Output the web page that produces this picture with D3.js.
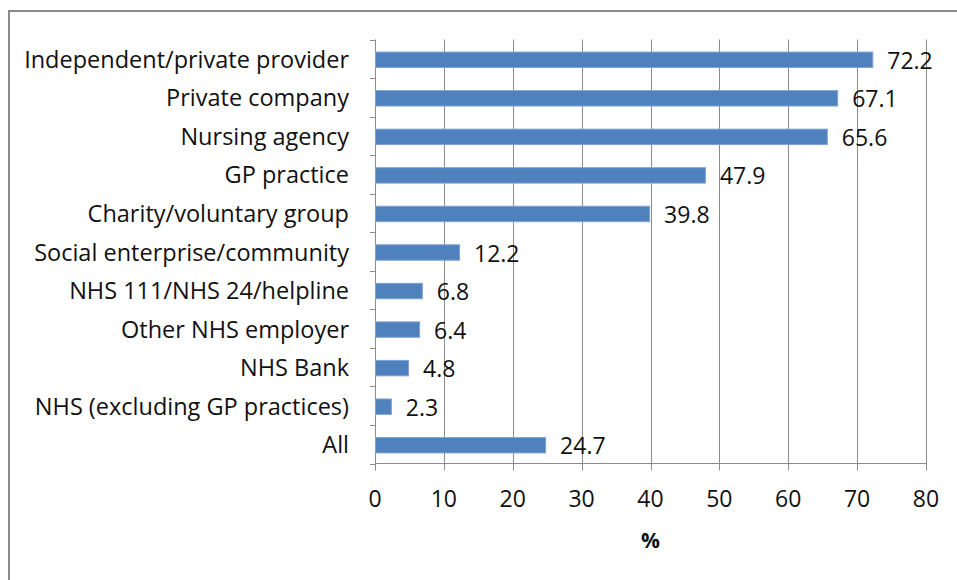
<!DOCTYPE html>
<html lang="en">
  <head>
    <meta charset="utf-8">
    <title>bars</title>
    <script src="https://cdn.jsdelivr.net/npm/d3@7"></script>
    <style type="text/css">
      body { margin: 0; background: #fff; }
      text { font-family: "Open Sans", "Liberation Sans", sans-serif; fill: #111; }
    </style>
  </head>
  <body>
    <svg width="957" height="580"></svg>
    <script type="text/javascript">
      var categories = ["Independent/private provider", "Private company", "Nursing agency",
        "GP practice", "Charity/voluntary group", "Social enterprise/community",
        "NHS 111/NHS 24/helpline", "Other NHS employer", "NHS Bank",
        "NHS (excluding GP practices)", "All"];
      var values = [72.2, 67.1, 65.6, 47.9, 39.8, 12.2, 6.8, 6.4, 4.8, 2.3, 24.7];
      var xTicks = [0, 10, 20, 30, 40, 50, 60, 70, 80];
      var xTitle = "%";

      var svg = d3.select("svg"),
          width = +svg.attr("width"),
          height = +svg.attr("height");

      // outer frame of the chart area (runs off the bottom/right)
      svg.append("rect")
        .attr("x", 9).attr("y", 11)
        .attr("width", 960).attr("height", 600)
        .attr("fill", "none")
        .attr("stroke", "#8a8a8a")
        .attr("stroke-width", 2);

      var plotTop = 39.5, plotBottom = 463.5;
      var x = d3.scaleLinear().domain([0, 80]).range([375, 926]);
      var y = d3.scaleBand().domain(categories).range([plotTop, plotBottom]).paddingInner(0.6).paddingOuter(0.3);
      var step = y.step();

      // vertical gridlines
      svg.append("g")
        .selectAll("line")
        .data(xTicks.slice(1))
        .enter().append("line")
          .attr("x1", function(d) { return Math.round(x(d)) + 0.5; })
          .attr("x2", function(d) { return Math.round(x(d)) + 0.5; })
          .attr("y1", plotTop)
          .attr("y2", plotBottom + 7)
          .attr("stroke", "#8c8c8c");

      // x axis line, y axis line
      svg.append("line")
        .attr("x1", 375.5).attr("x2", Math.round(x(80)) + 0.5)
        .attr("y1", plotBottom).attr("y2", plotBottom)
        .attr("stroke", "#8c8c8c");
      svg.append("line")
        .attr("x1", 375.5).attr("x2", 375.5)
        .attr("y1", plotTop).attr("y2", plotBottom + 7)
        .attr("stroke", "#8c8c8c");

      // category ticks on the y axis
      svg.append("g")
        .selectAll("line")
        .data(d3.range(categories.length + 1))
        .enter().append("line")
          .attr("x1", 370).attr("x2", 375.5)
          .attr("y1", function(i) { return Math.round(plotTop + i * step) + 0.5; })
          .attr("y2", function(i) { return Math.round(plotTop + i * step) + 0.5; })
          .attr("stroke", "#8c8c8c");

      // x tick labels
      svg.append("g")
        .selectAll("text")
        .data(xTicks)
        .enter().append("text")
          .attr("x", function(d) { return x(d); })
          .attr("y", 507)
          .attr("text-anchor", "middle")
          .style("font-size", "23px")
          .text(function(d) { return d; });

      svg.append("text")
        .attr("x", (x(0) + x(80)) / 2)
        .attr("y", 548)
        .attr("text-anchor", "middle")
        .style("font-size", "21px")
        .style("font-weight", "bold")
        .text(xTitle);

      // bars
      svg.append("g")
        .selectAll("rect")
        .data(values)
        .enter().append("rect")
          .attr("x", x(0) + 0.5)
          .attr("y", function(d, i) { return y(categories[i]) + 1; })
          .attr("width", function(d) { return x(d) - x(0); })
          .attr("height", y.bandwidth())
          .attr("fill", "#4f81bd")
          .attr("stroke", "#7ea3d3")
          .attr("stroke-width", 1);

      // value labels
      svg.append("g")
        .selectAll("text")
        .data(values)
        .enter().append("text")
          .attr("x", function(d) { return x(d) + 15; })
          .attr("y", function(d, i) { return y(categories[i]) + y.bandwidth() / 2 + 10; })
          .style("font-size", "23px")
          .text(function(d) { return d.toFixed(1); });

      // category labels
      svg.append("g")
        .selectAll("text")
        .data(categories)
        .enter().append("text")
          .attr("x", 349)
          .attr("y", function(d) { return y(d) + y.bandwidth() / 2 + 9; })
          .attr("text-anchor", "end")
          .style("font-size", "23.5px")
          .text(function(d) { return d; });
    </script>
  </body>
</html>
